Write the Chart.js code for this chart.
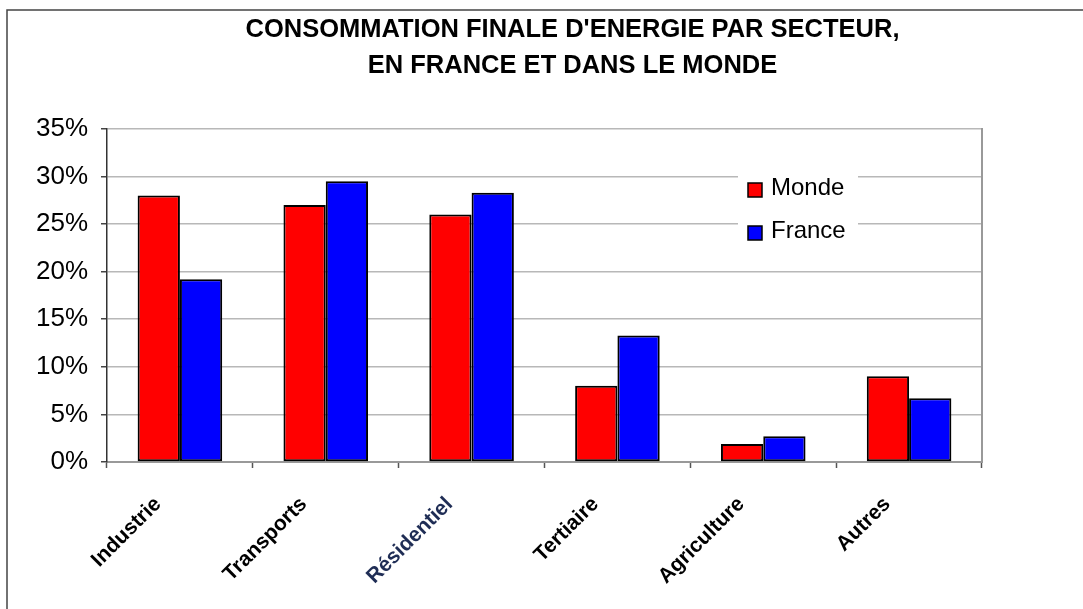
<!DOCTYPE html>
<html>
<head>
<meta charset="utf-8">
<title>Consommation finale d'energie par secteur</title>
<script src="https://cdn.jsdelivr.net/npm/chart.js@4/dist/chart.umd.min.js"></script>
<style>
    body { margin: 0; background: #fff; }
    canvas { display: block; }
</style>
</head>
<body>
<canvas id="energyChart" width="1083" height="609"></canvas>
<script>
// données (%)
const categories = ['Industrie', 'Transports', 'Résidentiel', 'Tertiaire', 'Agriculture', 'Autres'];
const monde = [28, 27, 26, 8, 1.9, 9];
const france = [19.2, 29.5, 28.3, 13.3, 2.7, 6.7];
const seriesLabels = ['Monde', 'France'];
const titleLines = ['CONSOMMATION FINALE D\'ENERGIE PAR SECTEUR,', 'EN FRANCE ET DANS LE MONDE'];

// cadre extérieur (bords gauche et haut seulement)
const framePlugin = {
    id: 'frame',
    beforeDraw(chart) {
        const ctx = chart.ctx;
        ctx.save();
        ctx.fillStyle = '#fff';
        ctx.fillRect(0, 0, chart.width, chart.height);
        ctx.strokeStyle = '#444';
        ctx.lineWidth = 1.5;
        ctx.beginPath();
        ctx.moveTo(7, chart.height);
        ctx.lineTo(7, 10);
        ctx.lineTo(chart.width, 10);
        ctx.stroke();
        ctx.restore();
    }
};

// légende placée dans la zone du graphique
const boxLegend = {
    id: 'boxLegend',
    afterDraw(chart) {
        const ctx = chart.ctx;
        ctx.save();
        ctx.fillStyle = '#fff';
        ctx.fillRect(738, 165, 120, 88);
        chart.data.datasets.forEach((ds, i) => {
            const y = 190 + i * 43;
            ctx.fillStyle = ds.backgroundColor;
            ctx.fillRect(748, y - 7, 14, 14);
            ctx.strokeStyle = '#000';
            ctx.lineWidth = 1.5;
            ctx.strokeRect(748, y - 7, 14, 14);
            ctx.fillStyle = '#000';
            ctx.font = '24px "Liberation Sans", Arial, sans-serif';
            ctx.textBaseline = 'middle';
            ctx.fillText(ds.label, 771, y - 2);
        });
        ctx.restore();
    }
};

const ctx = document.getElementById('energyChart').getContext('2d');
new Chart(ctx, {
    type: 'bar',
    data: {
        labels: categories,
        datasets: [{
            label: seriesLabels[0],
            data: monde,
            backgroundColor: '#ff0000',
            borderColor: '#000',
            borderWidth: 2,
            borderSkipped: false
        }, {
            label: seriesLabels[1],
            data: france,
            backgroundColor: '#0000ff',
            borderColor: '#000',
            borderWidth: 2,
            borderSkipped: false
        }]
    },
    options: {
        responsive: false,
        animation: false,
        datasets: {
            bar: {
                categoryPercentage: 0.58,
                barPercentage: 1
            }
        },
        // marge droite négative pour décaler le titre vers la droite comme l'original
        layout: {
            padding: { left: 7, right: -55, top: 0, bottom: 0 }
        },
        plugins: {
            legend: { display: false },
            tooltip: { enabled: false },
            title: {
                display: true,
                text: titleLines,
                color: '#000',
                font: { family: '"Liberation Sans", Arial, sans-serif', size: 25.5, weight: 'bold', lineHeight: 1.41 },
                padding: { top: 12, bottom: 45 }
            }
        },
        scales: {
            x: {
                grid: {
                    drawOnChartArea: false,
                    drawTicks: true,
                    tickLength: 6,
                    tickColor: '#555',
                    tickWidth: 1.5
                },
                border: { color: '#999', width: 2 },
                ticks: {
                    minRotation: 45,
                    maxRotation: 45,
                    labelOffset: -22,
                    padding: 24,
                    color: (c) => c.index === 2 ? '#1f2d55' : '#000',
                    font: { family: '"Liberation Sans", Arial, sans-serif', size: 21, weight: 'bold' }
                },
                afterFit(scale) { scale.height = 147; }
            },
            y: {
                min: 0,
                max: 35,
                grid: {
                    color: '#b8b8b8',
                    lineWidth: 1.5,
                    tickLength: 6,
                    tickColor: '#444'
                },
                border: { color: '#333', width: 1.5 },
                ticks: {
                    stepSize: 5,
                    padding: 13,
                    color: '#000',
                    font: { family: '"Liberation Sans", Arial, sans-serif', size: 26 },
                    callback: (v) => v + '%'
                },
                afterFit(scale) { scale.width = 100; }
            },
            y2: {
                position: 'right',
                min: 0,
                max: 35,
                grid: { display: false, drawTicks: false },
                ticks: { display: false },
                border: { display: true, color: '#999', width: 2 },
                afterFit(scale) { scale.width = 156; }
            }
        }
    },
    plugins: [framePlugin, boxLegend]
});
</script>
</body>
</html>
